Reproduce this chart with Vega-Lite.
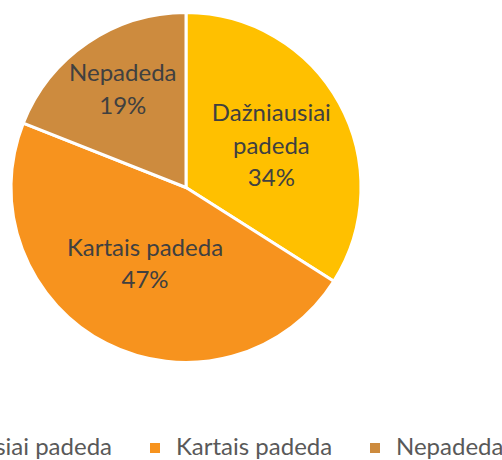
{
  "$schema": "https://vega.github.io/schema/vega-lite/v6.json",
  "width": 372,
  "height": 375,
  "autosize": {"type": "none"},
  "padding": {"left": 0, "top": 0, "right": 130, "bottom": 85},
  "background": "white",
  "view": {"stroke": null},
  "config": {"font": "Lato"},
  "data": {
    "values": [
      {"cat": "Dažniausiai padeda", "value": 34, "order": 1, "label": "Dažniausiai|padeda|34%"},
      {"cat": "Kartais padeda", "value": 47, "order": 2, "label": "Kartais padeda|47%"},
      {"cat": "Nepadeda", "value": 19, "order": 3, "label": "Nepadeda|19%"}
    ]
  },
  "encoding": {
    "theta": {"field": "value", "type": "quantitative", "stack": true},
    "order": {"field": "order", "type": "quantitative"},
    "color": {
      "field": "cat",
      "type": "nominal",
      "sort": ["Dažniausiai padeda", "Kartais padeda", "Nepadeda"],
      "scale": {
        "domain": ["Dažniausiai padeda", "Kartais padeda", "Nepadeda"],
        "range": ["#FFC000", "#F7931E", "#CD8B3E"]
      },
      "legend": {
        "title": null,
        "orient": "none",
        "direction": "horizontal",
        "legendX": -123,
        "legendY": 436,
        "symbolType": "square",
        "symbolSize": 100,
        "symbolStrokeWidth": 0,
        "labelFont": "Lato",
        "labelFontSize": 24,
        "labelColor": "#595959",
        "labelOffset": 9,
        "columnPadding": 30,
        "labelLimit": 400
      }
    }
  },
  "layer": [
    {
      "mark": {"type": "arc", "outerRadius": 175, "stroke": "white", "strokeWidth": 3}
    },
    {
      "mark": {"type": "text", "radius": 94, "dx": 3, "dy": -28, "lineBreak": "|", "fontSize": 24, "lineHeight": 32.5, "align": "center", "baseline": "middle"},
      "encoding": {
        "text": {"condition": {"test": "datum.order == 1", "field": "label"}, "value": ""},
        "color": {"value": "#404040"}
      }
    },
    {
      "mark": {"type": "text", "radius": 87, "dx": -1.5, "dy": -16.5, "lineBreak": "|", "fontSize": 24, "lineHeight": 32, "align": "center", "baseline": "middle"},
      "encoding": {
        "text": {"condition": {"test": "datum.order == 2", "field": "label"}, "value": ""},
        "color": {"value": "#404040"}
      }
    },
    {
      "mark": {"type": "text", "radius": 116, "dx": 2, "dy": -18, "lineBreak": "|", "fontSize": 24, "lineHeight": 33, "align": "center", "baseline": "middle"},
      "encoding": {
        "text": {"condition": {"test": "datum.order == 3", "field": "label"}, "value": ""},
        "color": {"value": "#404040"}
      }
    }
  ]
}
